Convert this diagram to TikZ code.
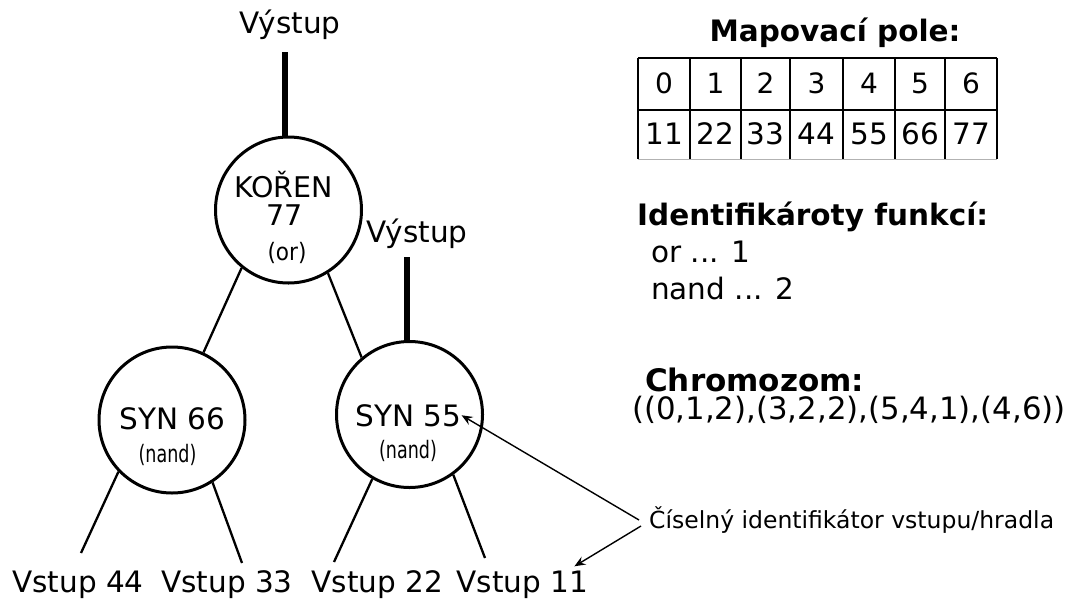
\documentclass[tikz,border=0pt]{standalone}
\usepackage{fontspec}
\setmainfont{DejaVu Sans}
\usepackage{graphicx}
\usetikzlibrary{arrows.meta,calc}
\newcommand\fsz[1]{\fontsize{#1}{#1}\selectfont}
\begin{document}
\begin{tikzpicture}[x=1pt,y=-1pt,
  gate/.style={circle, draw, line width=3pt, minimum size=146pt, inner sep=0pt},
  txt/.style={anchor=base, inner sep=0pt, font=\fsz{29.5}},
  wire/.style={line width=2.3pt},
  outw/.style={line width=6pt},
  pointer/.style={line width=1.4pt, -{Stealth[length=11pt,width=9pt,inset=4pt]}},
  cell/.style={line width=1.5pt}]
\useasboundingbox (0,0) rectangle (1070,600);

% gates
\node[gate] (root) at (288.5,210) {};
\node[gate] (s66) at (172,420) {};
\node[gate] (s55) at (409.5,414.5) {};

% gate texts
\node[txt, font=\fsz{28.5}] (rootname) at (283.5,197) {KOŘEN};
\node[txt, font=\fsz{28.5}] (rootid) at (285,225) {77};
\node[txt, font=\fsz{24}] (rootfn) at (287,260) {\scalebox{0.9}[1]{(or)}};
\node[txt] (s66name) at (172.5,429) {SYN 66};
\node[txt, font=\fsz{24}] (s66fn) at (167.5,462) {\scalebox{0.73}[1]{(nand)}};
\node[txt] (s55name) at (408.5,426) {SYN 55};
\node[txt, font=\fsz{24}] (s55fn) at (408,458) {\scalebox{0.73}[1]{(nand)}};

% outputs
\node[txt] (out1) at (290,33) {Výstup};
\node[txt] (out2) at (417,242) {Výstup};
\coordinate (o1) at (285,52);
\coordinate (o2) at (407,257);
\draw[outw] (o1) -- (o1 |- root.north);
\draw[outw] (o2) -- (o2 |- s55.north);

% inputs
\node[txt] (in44) at (78,592) {Vstup 44};
\node[txt] (in33) at (227,592) {Vstup 33};
\node[txt] (in22) at (377.5,592) {Vstup 22};
\node[txt] (in11) at (522.5,592) {Vstup 11};
\coordinate (e44) at (81,553);
\coordinate (e33) at (242,563);
\coordinate (e22) at (334,562);
\coordinate (e11) at (485,558);

% wires
\draw[wire] (root.231.3) -- (s66.65.5);
\draw[wire] (root.302.7) -- (s55.130.1);
\draw[wire] (s66.224.5) -- (e44);
\draw[wire] (s66.303.5) -- (e33);
\draw[wire] (s55.240.9) -- (e22);
\draw[wire] (s55.306.3) -- (e11);

% mapping table
\node[txt, font=\bfseries\fsz{29.5}] (maptitle) at (835,41) {Mapovací pole:};
\foreach \x in {638,690,741,790,843,895,945,997}
  \draw[cell] (\x,58) -- (\x,159);
\draw[cell] (638,58) -- (997,58);
\draw[cell] (638,110) -- (997,110);
\draw[line width=1pt, gray!60] (638,159) -- (997,159);
\foreach \c/\i/\v [count=\k] in {664/0/11,715.5/1/22,765.5/2/33,816.5/3/44,869/4/55,920/5/66,971/6/77}{
  \node[txt, font=\fsz{28}] (h\k) at (\c,93) {\i};
  \node[txt] (v\k) at (\c,144) {\v};
}

% legend
\node[txt, anchor=base west, font=\bfseries\fsz{29.5}] (idtitle) at (637,225) {Identifikároty funkcí:};
\node[txt, anchor=base west] (orid) at (651,262) {or ... 1};
\node[txt, anchor=base west] (nandid) at (651,299) {nand ... 2};
\node[txt, anchor=base west, font=\bfseries\fsz{31}] (chtitle) at (645,391) {Chromozom:};
\node[txt, anchor=base west, font=\fsz{30.8}] (chrom) at (632,419) {((0,1,2),(3,2,2),(5,4,1),(4,6))};

% pointer label
\node[anchor=base west, inner sep=0pt, font=\fsz{23.5}] (lab) at (649,528) {Číselný identifikátor vstupu/hradla};
\coordinate (v1) at (639,520);
\coordinate (v2) at (641,526);
\draw[pointer] (v1) -- (s55name.east);
\draw[pointer] (v2) -- ($(in11.north east)+(-14,-4)$);
\end{tikzpicture}
\end{document}
